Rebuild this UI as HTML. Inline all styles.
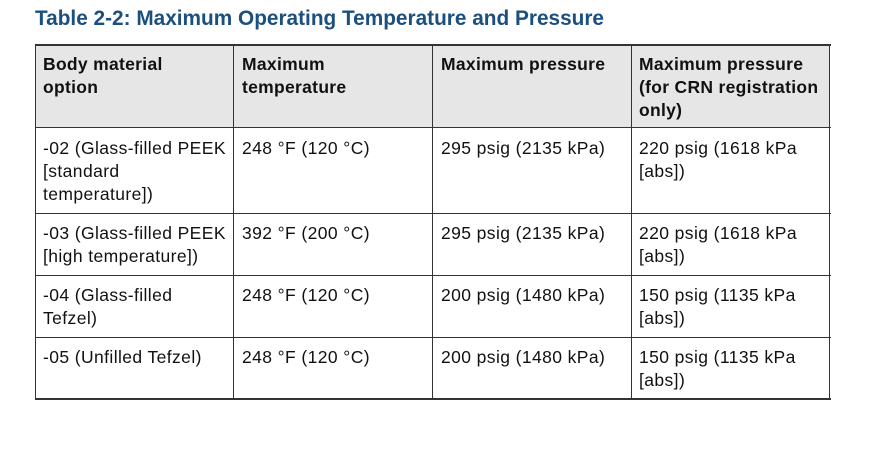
<!DOCTYPE html>
<html><head><style>
body{margin:0;width:875px;height:451px;background:#fff;position:relative;overflow:hidden;font-family:"Liberation Sans",sans-serif;}
.t{position:absolute;left:35px;top:7px;font-size:20.8px;font-weight:bold;color:#1b4f7e;white-space:nowrap;letter-spacing:0px}
.hb{position:absolute;left:35px;top:44px;width:795px;height:84px;background:#e6e6e6}
.h{position:absolute;background:#333}
.c{position:absolute;font-size:17.5px;line-height:23px;color:#111;white-space:nowrap;letter-spacing:0.4px}
.b{font-weight:bold;letter-spacing:0.3px}
</style></head><body>
<div class="t">Table 2-2: Maximum Operating Temperature and Pressure</div>
<div class="hb"></div>
<div class="h" style="left:35px;top:44px;width:796px;height:2px"></div>
<div class="h" style="left:35px;top:127px;width:796px;height:1px"></div>
<div class="h" style="left:35px;top:213px;width:796px;height:1px"></div>
<div class="h" style="left:35px;top:275px;width:796px;height:1px"></div>
<div class="h" style="left:35px;top:337px;width:796px;height:1px"></div>
<div class="h" style="left:35px;top:398px;width:796px;height:2px"></div>
<div class="h" style="left:35px;top:44px;width:1px;height:356px"></div>
<div class="h" style="left:233px;top:44px;width:1px;height:356px"></div>
<div class="h" style="left:432px;top:44px;width:1px;height:356px"></div>
<div class="h" style="left:631px;top:44px;width:1px;height:356px"></div>
<div class="h" style="left:829px;top:44px;width:1px;height:356px"></div>

<div class="c b" style="left:43px;top:53px">Body material<br>option</div>
<div class="c b" style="left:242px;top:53px">Maximum<br>temperature</div>
<div class="c b" style="left:441px;top:53px">Maximum pressure</div>
<div class="c b" style="left:639px;top:53px">Maximum pressure<br>(for CRN registration<br>only)</div>

<div class="c" style="left:43px;top:137px">-02 (Glass-filled PEEK<br>[standard<br>temperature])</div>
<div class="c" style="left:242px;top:137px">248 °F (120 °C)</div>
<div class="c" style="left:441px;top:137px">295 psig (2135 kPa)</div>
<div class="c" style="left:639px;top:137px">220 psig (1618 kPa<br>[abs])</div>

<div class="c" style="left:43px;top:222px">-03 (Glass-filled PEEK<br>[high temperature])</div>
<div class="c" style="left:242px;top:222px">392 °F (200 °C)</div>
<div class="c" style="left:441px;top:222px">295 psig (2135 kPa)</div>
<div class="c" style="left:639px;top:222px">220 psig (1618 kPa<br>[abs])</div>

<div class="c" style="left:43px;top:284px">-04 (Glass-filled<br>Tefzel)</div>
<div class="c" style="left:242px;top:284px">248 °F (120 °C)</div>
<div class="c" style="left:441px;top:284px">200 psig (1480 kPa)</div>
<div class="c" style="left:639px;top:284px">150 psig (1135 kPa<br>[abs])</div>

<div class="c" style="left:43px;top:346px">-05 (Unfilled Tefzel)</div>
<div class="c" style="left:242px;top:346px">248 °F (120 °C)</div>
<div class="c" style="left:441px;top:346px">200 psig (1480 kPa)</div>
<div class="c" style="left:639px;top:346px">150 psig (1135 kPa<br>[abs])</div>
</body></html>
